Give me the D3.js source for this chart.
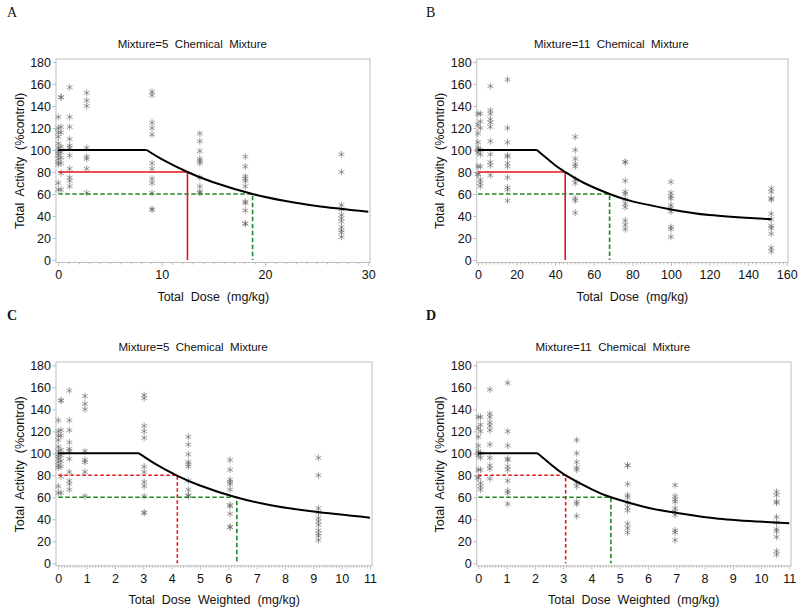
<!DOCTYPE html>
<html><head><meta charset="utf-8">
<script src="https://cdn.jsdelivr.net/npm/d3@7"></script>
<style>
html,body{margin:0;padding:0;background:#fff;}
svg{display:block;font-family:"Liberation Sans",Arial,sans-serif;}
</style></head>
<body>
<svg id="chart" width="800" height="612"></svg>
<script>
// ---------- DATA ----------
const yTicks = [0, 20, 40, 60, 80, 100, 120, 140, 160, 180];
const xTicksA = [0, 10, 20, 30];
const xTicksB = [0, 20, 40, 60, 80, 100, 120, 140, 160];
const xTicksCD = [0, 1, 2, 3, 4, 5, 6, 7, 8, 9, 10, 11];

// 5 chemical mixture: dose groups
const mix5Dose = [0, 0.26, 1.1, 2.75, 9.07, 13.7, 18.1, 27.4];
const mix5DoseWeighted = [0, 0.094, 0.39, 0.94, 3.03, 4.59, 6.06, 9.18];
const mix5Activity = [
  [130, 120, 116, 112, 106, 102, 99, 97, 95, 92, 89, 87, 70, 64],
  [148, 148, 121, 116, 103, 98, 93, 88, 79, 64],
  [157, 130, 121, 110, 104, 102, 95, 83, 75, 72, 67],
  [152, 145, 140, 102, 94, 92, 83, 61],
  [153, 150, 125, 120, 114, 88, 83, 74, 70, 61, 46, 46],
  [115, 108, 99, 92, 90, 88, 75, 67, 62, 61],
  [94, 85, 76, 74, 72, 67, 53, 52, 45, 33, 33],
  [96, 80, 50, 46, 41, 38, 35, 30, 27, 25, 21]
];
// 11 chemical mixture: dose groups
const mix11Dose = [0, 1.2, 6.4, 15.3, 50.4, 76.3, 100, 152];
const mix11DoseWeighted = [0, 0.08, 0.41, 1.04, 3.48, 5.28, 6.96, 10.55];
const mix11Activity = [
  [133, 123, 115, 107, 102, 100, 98, 85, 78, 78],
  [133, 126, 120, 100, 96, 85, 73, 70, 67],
  [158, 136, 133, 128, 125, 121, 108, 96, 89, 86, 77],
  [164, 120, 107, 95, 94, 88, 85, 75, 66, 64, 54],
  [112, 100, 92, 87, 85, 73, 70, 56, 54, 43],
  [89, 89, 72, 62, 60, 55, 51, 48, 36, 32, 28],
  [71, 61, 58, 56, 50, 47, 44, 30, 28, 21],
  [65, 62, 56, 55, 42, 37, 31, 29, 24, 11, 8]
];

// fitted curves
const curveAx = [0, 8.55, 10, 12.5, 15, 18.8, 22, 25, 30];
const curveAy = [100, 100, 91.8, 80, 70.7, 60, 53.6, 49.1, 43.8];
const curveBx = [0, 30.5, 40, 45.2, 55, 68.2, 80, 100, 120, 152];
const curveBy = [100, 100, 86.2, 80, 70, 60, 53.3, 46, 40.9, 37];
const curveCx = [0, 2.85, 3.5, 4.17, 5, 6.27, 7.5, 9, 11];
const curveCy = [100, 100, 89.2, 80, 70.7, 60, 52.8, 47, 41.5];
const curveDx = [0, 2.1, 2.6, 3.09, 4, 4.69, 6, 7, 8.5, 11];
const curveDy = [100, 100, 89.2, 80, 67.4, 60, 50.5, 46, 40.6, 36.4];

// reference levels (activity) and doses where curve crosses them
const refLevels = [80, 60];
const refDoseA = [12.5, 18.8];
const refDoseB = [45.2, 68.2];
const refDoseC = [4.2, 6.3];
const refDoseD = [3.09, 4.69];

const titles = ["Mixture=5  Chemical  Mixture", "Mixture=11  Chemical  Mixture"];
const xLabels = ["Total  Dose  (mg/kg)", "Total  Dose  Weighted  (mg/kg)"];
const yLabel = "Total  Activity  (%control)";

// ---------- LAYOUT ----------
const panels = [
  {letter:"A", bold:false, lx:7, ly:16.5, title:titles[0], xlabel:xLabels[0],
   frame:[56,59,370,262.5], xr:[58.3,368.3], yr:[260,62], xd:[0,30], xticks:xTicksA, minorStep:1,
   doses:mix5Dose, act:mix5Activity, cx:curveAx, cy:curveAy, ref:refDoseA, redDash:false},
  {letter:"B", bold:false, lx:426, ly:16.5, title:titles[1], xlabel:xLabels[0],
   frame:[476.7,59,788,262.5], xr:[478,786.7], yr:[260,62], xd:[0,160], xticks:xTicksB, minorStep:2,
   doses:mix11Dose, act:mix11Activity, cx:curveBx, cy:curveBy, ref:refDoseB, redDash:false},
  {letter:"C", bold:true, lx:7, ly:320, title:titles[0], xlabel:xLabels[1],
   frame:[56,362,372,565.8], xr:[58.3,370], yr:[563.3,365.3], xd:[0,11], xticks:xTicksCD, minorStep:0.1,
   doses:mix5DoseWeighted, act:mix5Activity, cx:curveCx, cy:curveCy, ref:refDoseC, redDash:true},
  {letter:"D", bold:true, lx:426, ly:320, title:titles[1], xlabel:xLabels[1],
   frame:[476.7,362,791,565.8], xr:[478.3,789.3], yr:[563.3,365.3], xd:[0,11], xticks:xTicksCD, minorStep:0.1,
   doses:mix11DoseWeighted, act:mix11Activity, cx:curveDx, cy:curveDy, ref:refDoseD, redDash:true}
];

const svg = d3.select("#chart");
const frameColor = "#bdbdbd";
const r = 3.4, c30 = Math.cos(Math.PI/6)*r, s30 = Math.sin(Math.PI/6)*r;
const starPath = `M0,${-r}L0,${r}M${-c30},${-s30}L${c30},${s30}M${-c30},${s30}L${c30},${-s30}`;

panels.forEach(p => {
  const g = svg.append("g");
  const x = d3.scaleLinear().domain(p.xd).range(p.xr);
  const y = d3.scaleLinear().domain([0,180]).range(p.yr);
  const [fx0, fy0, fx1, fy1] = p.frame;

  // panel letter
  g.append("text").attr("x", p.lx).attr("y", p.ly)
    .attr("font-family", "'Liberation Serif','Times New Roman',serif")
    .attr("font-size", 14).attr("font-weight", p.bold ? "bold" : "normal")
    .attr("fill", "#111").text(p.letter);

  // title
  const pcx = (p.xr[0] + p.xr[1]) / 2;
  g.append("text").attr("x", pcx - 21).attr("y", fy0 - 10.7)
    .attr("text-anchor", "middle").attr("font-size", 11.5).attr("fill", "#111")
    .style("white-space", "pre").text(p.title);

  // frame
  g.append("rect").attr("x", fx0).attr("y", fy0)
    .attr("width", fx1 - fx0).attr("height", fy1 - fy0)
    .attr("fill", "none").attr("stroke", frameColor).attr("stroke-width", 1);

  // y axis
  const yAxis = d3.axisLeft(y).tickValues(yTicks).tickSize(3.5).tickPadding(1.5);
  const ya = g.append("g").attr("transform", `translate(${fx0},0)`).call(yAxis);
  ya.select(".domain").remove();
  ya.selectAll(".tick line").attr("stroke", frameColor);
  ya.selectAll(".tick text").attr("font-size", 12.5).attr("fill", "#111")
    .attr("font-family", "'Liberation Sans',Arial,sans-serif");

  // x axis minor ticks
  const nMinor = Math.round((p.xd[1] - p.xd[0]) / p.minorStep);
  const minor = d3.range(nMinor + 1).map(i => p.xd[0] + i * p.minorStep)
    .filter(v => !p.xticks.some(t => Math.abs(t - v) < 1e-6));
  const xMinor = d3.axisBottom(x).tickValues(minor).tickSize(2).tickFormat("");
  const xm = g.append("g").attr("transform", `translate(0,${fy1})`).call(xMinor);
  xm.select(".domain").remove();
  xm.selectAll(".tick line").attr("stroke", frameColor);

  // x axis major
  const xAxis = d3.axisBottom(x).tickValues(p.xticks).tickSize(3.5).tickPadding(4.5).tickFormat(d3.format("d"));
  const xa = g.append("g").attr("transform", `translate(0,${fy1})`).call(xAxis);
  xa.select(".domain").remove();
  xa.selectAll(".tick line").attr("stroke", frameColor);
  xa.selectAll(".tick text").attr("font-size", 12.5).attr("fill", "#111")
    .attr("font-family", "'Liberation Sans',Arial,sans-serif");

  // axis labels
  g.append("text").attr("x", pcx).attr("y", fy1 + 38)
    .attr("text-anchor", "middle").attr("font-size", 12.5).attr("fill", "#111")
    .style("white-space", "pre").text(p.xlabel);
  const ycx = fx0 - 32.5, ycy = (p.yr[0] + p.yr[1]) / 2;
  g.append("text").attr("transform", `translate(${ycx},${ycy}) rotate(-90)`)
    .attr("text-anchor", "middle").attr("font-size", 12.5).attr("fill", "#111")
    .style("white-space", "pre").text(yLabel);

  // points
  const pts = [];
  p.doses.forEach((d, i) => p.act[i].forEach(v => pts.push([d, v])));
  g.append("g").selectAll("path").data(pts).join("path")
    .attr("d", starPath)
    .attr("transform", d => `translate(${x(d[0])},${y(d[1])})`)
    .attr("fill", "none").attr("stroke", "#666").attr("stroke-opacity", 0.7)
    .attr("stroke-width", 0.9);

  // reference lines
  const refColors = ["#e8141a", "#1e8a1e"];
  p.ref.forEach((dose, i) => {
    const lvl = refLevels[i];
    const dashed = i === 1 || p.redDash;
    const dash = i === 1 ? "4.5,2.5" : "3.5,2.5";
    g.append("path")
      .attr("d", d3.line()([[x(0), y(lvl)], [x(dose), y(lvl)], [x(dose), y(0)]]))
      .attr("fill", "none").attr("stroke", refColors[i]).attr("stroke-width", 1.6)
      .attr("stroke-dasharray", dashed ? dash : null);
  });

  // fitted curve: flat plateau (straight) then smooth decline
  const ptsC = p.cx.map((v, i) => [v, p.cy[i]]);
  const flat = ptsC.slice(0, 2);
  const decline = ptsC.slice(1);
  const lineLin = d3.line().x(d => x(d[0])).y(d => y(d[1]));
  const lineSmooth = d3.line().x(d => x(d[0])).y(d => y(d[1])).curve(d3.curveNatural);
  g.append("path").datum(flat)
    .attr("d", lineLin).attr("fill", "none").attr("stroke", "#000").attr("stroke-width", 2);
  g.append("path").datum(decline)
    .attr("d", lineSmooth).attr("fill", "none").attr("stroke", "#000").attr("stroke-width", 2);
});
</script>
</body></html>
